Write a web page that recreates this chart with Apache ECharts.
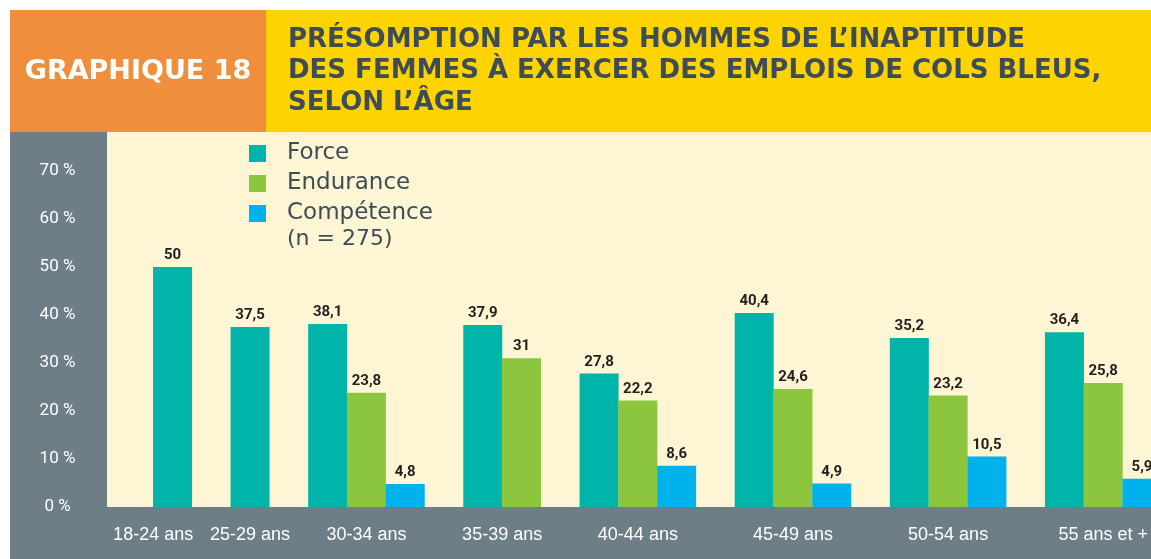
<!DOCTYPE html>
<html>
<head>
<meta charset="utf-8">
<script src="https://cdn.jsdelivr.net/npm/echarts@6/dist/echarts.min.js"></script>
<style>
html,body{margin:0;padding:0;background:#ffffff;}
#chart{width:1151px;height:559px;}
</style>
</head>
<body>
<div id="chart"></div>
<script>
const ageGroups = ['18-24 ans','25-29 ans','30-34 ans','35-39 ans','40-44 ans','45-49 ans','50-54 ans','55 ans et +'];
const force      = [50, 37.5, 38.1, 37.9, 27.8, 40.4, 35.2, 36.4];
const endurance  = [null, null, 23.8, 31, 22.2, 24.6, 23.2, 25.8];
const competence = [null, null, 4.8, null, 8.6, 4.9, 10.5, 5.9];
const seriesNames = ['Force', 'Endurance', 'Compétence'];
const yTickValues = [0, 10, 20, 30, 40, 50, 60, 70];
const titleLines = ['PRÉSOMPTION PAR LES HOMMES DE L’INAPTITUDE', 'DES FEMMES À EXERCER DES EMPLOIS DE COLS BLEUS,', 'SELON L’ÂGE'];
const badgeText = 'GRAPHIQUE 18';
const sampleNote = '(n = 275)';

const colors = ['#00b4aa', '#8cc63f', '#00b2ec'];
const allSeries = [force, endurance, competence];

// Build bar slots: present bars of a group are adjacent, one empty slot between groups
const seriesData = [[], [], []];
const labelPos = [];
let slot = 0;
ageGroups.forEach((g, i) => {
  const start = slot;
  allSeries.forEach((arr, k) => {
    if (arr[i] !== null && arr[i] !== undefined) {
      seriesData[k].push([slot, arr[i]]);
      slot++;
    }
  });
  labelPos.push((start + slot - 1) / 2);
  slot++;
});
labelPos[0] -= 0.5;
const labelMap = {};
labelPos.forEach((p, i) => { labelMap[p.toFixed(2)] = ageGroups[i]; });

const narrow = "'Liberation Sans Narrow', 'Roboto', sans-serif";
const sans = "'Liberation Sans', Arial, sans-serif";
const wide = "'DejaVu Sans', sans-serif";
const slate = '#3e4c55';

const chart = echarts.init(document.getElementById('chart'), null, {renderer: 'canvas'});

const graphicEls = [
  {type: 'rect', z: -5, shape: {x: 10, y: 10, width: 256, height: 122}, style: {fill: '#ef8e3c'}},
  {type: 'rect', z: -5, shape: {x: 266, y: 10, width: 885, height: 122}, style: {fill: '#fdd402'}},
  {type: 'rect', z: -5, shape: {x: 10, y: 132, width: 1141, height: 427}, style: {fill: '#6e7e87'}},
  {type: 'rect', z: -4, shape: {x: 107, y: 132, width: 1044, height: 375}, style: {fill: '#fdf5d4'}},
  {type: 'text', z: 10, style: {x: 138, y: 72, text: badgeText, fill: '#ffffff', font: "bold 27px 'DejaVu Sans', sans-serif", align: 'center', verticalAlign: 'middle'}},
  {type: 'text', z: 10, style: {x: 287, y: 239, text: sampleNote, fill: slate, font: "22px 'DejaVu Sans', sans-serif", align: 'left', verticalAlign: 'middle'}}
];
const titleY = [40, 71.5, 103];
titleLines.forEach((t, i) => {
  graphicEls.push({type: 'text', z: 10, style: {x: 288, y: titleY[i], text: t, fill: slate, font: "bold 26px 'DejaVu Sans', sans-serif", align: 'left', verticalAlign: 'middle'}});
});

const option = {
  backgroundColor: '#ffffff',
  animation: false,
  graphic: {elements: graphicEls},
  legend: {
    orient: 'vertical',
    left: 249,
    top: 142,
    padding: 0,
    icon: 'rect',
    itemWidth: 17,
    itemHeight: 17,
    itemGap: 7,
    data: seriesNames,
    textStyle: {fontSize: 23, fontFamily: wide, color: slate, padding: [0, 0, 0, 16]}
  },
  grid: {left: 107, right: 0, top: 132, bottom: 52, containLabel: false},
  xAxis: {
    type: 'value',
    min: -1.69,
    max: 25.23,
    axisLine: {show: false},
    axisTick: {show: false},
    splitLine: {show: false},
    axisLabel: {
      customValues: labelPos,
      formatter: v => labelMap[Number(v).toFixed(2)] || '',
      color: '#ffffff',
      fontSize: 18,
      fontFamily: sans,
      margin: 19
    }
  },
  yAxis: {
    type: 'value',
    min: 0,
    max: 78.1,
    axisLine: {show: false},
    axisTick: {show: false},
    splitLine: {show: false},
    axisLabel: {
      customValues: yTickValues,
      formatter: v => v + ' %',
      color: '#ffffff',
      fontSize: 17,
      fontFamily: narrow,
      align: 'center',
      margin: 49.5
    }
  },
  series: seriesNames.map((name, k) => ({
    name: name,
    type: 'bar',
    data: seriesData[k],
    barWidth: 39,
    barGap: '-100%',
    itemStyle: {color: colors[k]},
    label: {
      show: true,
      position: 'top',
      distance: 4,
      formatter: p => String(p.value[1]).replace('.', ','),
      color: '#231f20',
      fontSize: 15,
      fontWeight: 'bold',
      fontFamily: narrow
    }
  }))
};
chart.setOption(option);
</script>
</body>
</html>
